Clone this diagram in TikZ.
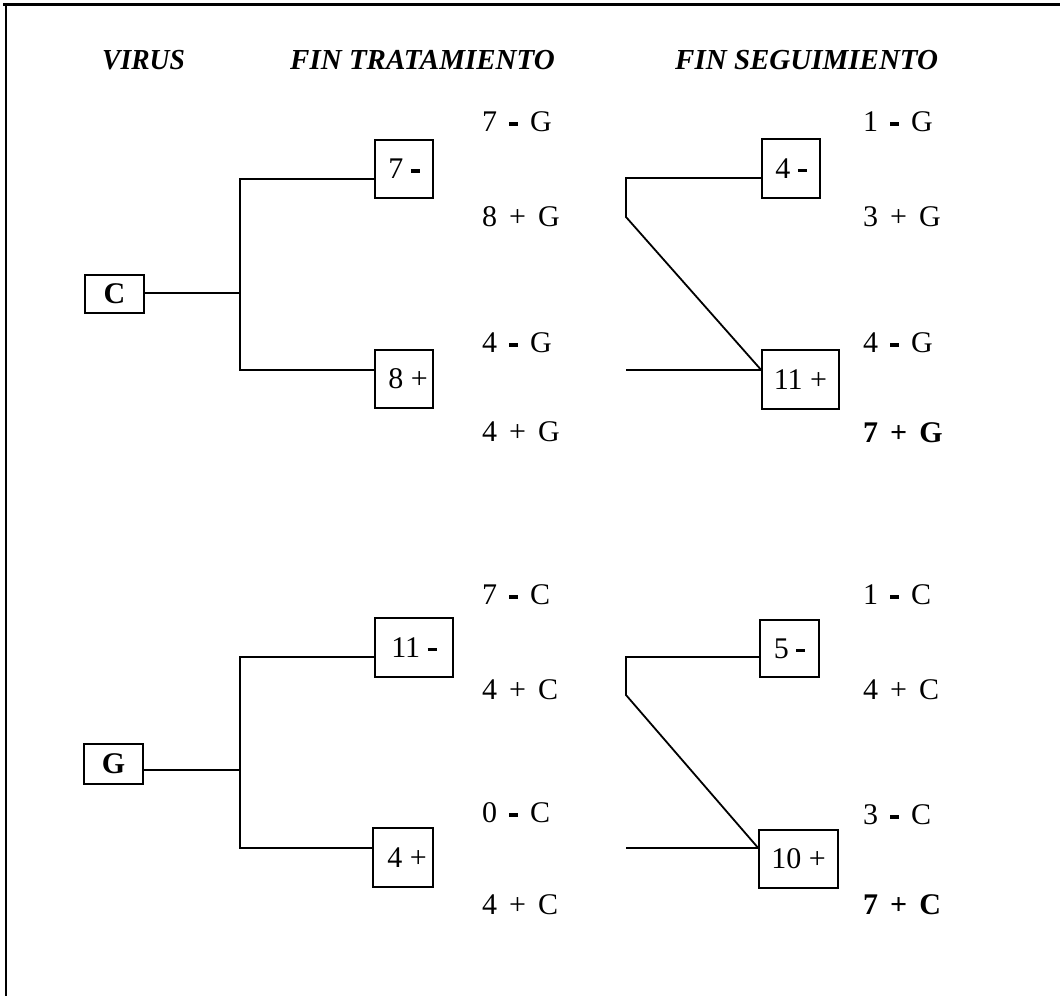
\documentclass[tikz,border=0pt]{standalone}
\usepackage{fontspec}
\setmainfont{Liberation Serif}
\newcommand{\mn}{\rule[6pt]{9pt}{3.6pt}}
\newcommand{\gapx}{\hspace{12pt}}
\begin{document}
\begin{tikzpicture}[x=1pt,y=-1pt,
  lbl/.style={anchor=west,inner sep=0pt,font=\fontsize{30}{36}\selectfont},
  hdr/.style={anchor=west,inner sep=0pt,font=\fontsize{29}{35}\selectfont\bfseries\itshape},
  bx/.style={draw,line width=1.6pt,inner sep=0pt,font=\fontsize{30}{36}\selectfont},
  vbx/.style={draw,line width=1.6pt,inner sep=0pt,font=\fontsize{30}{36}\selectfont\bfseries},
  ln/.style={line width=1.8pt}]
\useasboundingbox (0,0) rectangle (1060,996);
% frame
\draw[line width=3pt] (3,4) -- (1060,4);
\draw[line width=2.5pt] (6,4) -- (6,996);
% headers
\node[hdr] (h1) at (102,60) {\scalebox{0.95}[1]{VIRUS}};
\node[hdr] (h2) at (290,60) {FIN TRATAMIENTO};
\node[hdr] (h3) at (675,60) {FIN SEGUIMIENTO};
% virus boxes
\node[vbx,minimum width=59pt,minimum height=38pt] (C) at (114.5,294) {C};
\node[vbx,minimum width=59pt,minimum height=40pt] (G) at (113.5,764) {G};
% treatment boxes
\node[bx,minimum width=58pt,minimum height=58pt] (t1) at (404,169) {7 \mn};
\node[bx,minimum width=58pt,minimum height=58pt] (t2) at (404,379) {\raisebox{-8pt}{\hspace{8pt}8 +}};
\node[bx,minimum width=78pt,minimum height=59pt] (t3) at (414,647.5) {11 \mn};
\node[bx,minimum width=60pt,minimum height=59pt] (t4) at (403,857.5) {\hspace{8pt}4 +};
% follow-up boxes
\node[bx,minimum width=58pt,minimum height=59pt] (s1) at (791,168.5) {\raisebox{-3pt}{4 \mn}\hspace{14pt}};
\node[bx,minimum width=77pt,minimum height=59pt] (s2) at (800.5,379.5) {\raisebox{-8pt}{11 +}};
\node[bx,minimum width=59pt,minimum height=57pt] (s3) at (789.5,648.5) {5 \mn\hspace{14pt}};
\node[bx,minimum width=79pt,minimum height=58pt] (s4) at (798.5,859) {10 +};
% connectors, upper tree
\coordinate (jc) at (240,293);
\draw[ln] (C.east |- jc) -- (jc);
\draw[ln] ([yshift=-10pt]t1.west) -| (jc) |- ([yshift=9pt]t2.west);
% connectors, lower tree
\coordinate (jg) at (240,770);
\draw[ln] (G.east |- jg) -- (jg);
\draw[ln] ([yshift=-9.5pt]t3.west) -| (jg) |- ([yshift=9.5pt]t4.west);
% follow-up connectors, upper
\coordinate (a1) at (626,217);
\coordinate (a0) at (626,370);
\draw[ln] ([yshift=-9.5pt]s1.west) -| (a1) -- ([yshift=9.5pt]s2.west);
\draw[ln] (a0) -- ([yshift=9.5pt]s2.west);
% follow-up connectors, lower
\coordinate (b1) at (626,695);
\coordinate (b0) at (626,848);
\draw[ln] ([yshift=-8.5pt]s3.west) -| (b1) -- ([yshift=11pt]s4.west);
\draw[ln] (b0) -- ([yshift=11pt]s4.west);
% labels, treatment column
\node[lbl] (l1) at (482,122) {7\gapx\mn\gapx G};
\node[lbl] (l2) at (482,217) {8\gapx+\gapx G};
\node[lbl] (l3) at (482,343) {4\gapx\mn\gapx G};
\node[lbl] (l4) at (482,432) {4\gapx+\gapx G};
\node[lbl] (l5) at (482,595) {7\gapx\mn\gapx C};
\node[lbl] (l6) at (482,690) {4\gapx+\gapx C};
\node[lbl] (l7) at (482,813) {0\gapx\mn\gapx C};
\node[lbl] (l8) at (482,905) {4\gapx+\gapx C};
% labels, follow-up column
\node[lbl] (m1) at (863,122) {1\gapx\mn\gapx G};
\node[lbl] (m2) at (863,217) {3\gapx+\gapx G};
\node[lbl] (m3) at (863,343) {4\gapx\mn\gapx G};
\node[lbl] (m4) at (863,433) {\textbf{7\gapx+\gapx G}};
\node[lbl] (m5) at (863,595) {1\gapx\mn\gapx C};
\node[lbl] (m6) at (863,690) {4\gapx+\gapx C};
\node[lbl] (m7) at (863,815) {3\gapx\mn\gapx C};
\node[lbl] (m8) at (863,905) {\textbf{7\gapx+\gapx C}};
\end{tikzpicture}
\end{document}
